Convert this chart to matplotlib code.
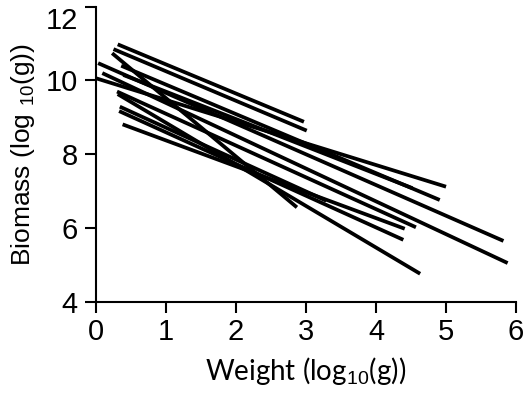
import matplotlib
matplotlib.use("Agg")
import matplotlib.pyplot as plt
from matplotlib.transforms import ScaledTranslation

plt.rcParams["font.family"] = ["Liberation Sans", "DejaVu Sans"]
plt.rcParams["mathtext.fontset"] = "custom"
plt.rcParams["mathtext.rm"] = "Liberation Sans"
plt.rcParams["mathtext.it"] = "Liberation Sans"

# start / end of each fitted line (log10 weight, log10 biomass)
x_start = [0.31, 0.25, 0.23, 0.00, 0.03, 0.09, 0.36, 0.39, 0.31, 0.30, 0.34, 0.33, 0.38]
y_start = [10.98, 10.85, 10.74, 10.06, 10.47, 10.20, 10.40, 10.15, 9.63, 9.70, 9.29, 9.17, 8.81]
x_end = [2.97, 3.01, 2.87, 5.00, 5.82, 5.88, 4.91, 4.52, 4.63, 4.57, 3.29, 4.39, 4.41]
y_end = [8.88, 8.64, 6.56, 7.12, 5.65, 5.05, 6.76, 7.08, 4.76, 6.02, 6.74, 5.68, 5.98]

x_ticks = [0, 1, 2, 3, 4, 5, 6]
y_ticks = [4, 6, 8, 10, 12]

fig = plt.figure(figsize=(5.29, 3.95), dpi=100)
ax = fig.add_axes([0.1815, 0.236, 0.794, 0.747])

for x0, y0, x1, y1 in zip(x_start, y_start, x_end, y_end):
    ax.plot([x0, x1], [y0, y1], color="black", lw=2.7, solid_capstyle="butt")

ax.set_xlim(0, 6)
ax.set_ylim(4, 12)
ax.set_xticks(x_ticks)
ax.set_yticks(y_ticks)
for s in ["top", "right"]:
    ax.spines[s].set_visible(False)
for s in ["left", "bottom"]:
    ax.spines[s].set_linewidth(1.5)
ax.tick_params(direction="out", length=8, width=1.5, labelsize=21, pad=4)
ax.tick_params(axis="y", pad=5)

# top label sits lower so it stays inside the figure
top = ax.get_yticklabels()[-1]
top.set_transform(top.get_transform() + ScaledTranslation(0, -8 / 72, fig.dpi_scale_trans))

ax.set_xlabel("Weight (log$_{10}$(g))", fontsize=20, family=["Lato", "DejaVu Sans"], labelpad=6)
ax.set_ylabel("Biomass (log $_{10}$(g))", fontsize=19, labelpad=6)

fig.savefig("out.png", dpi=100)
